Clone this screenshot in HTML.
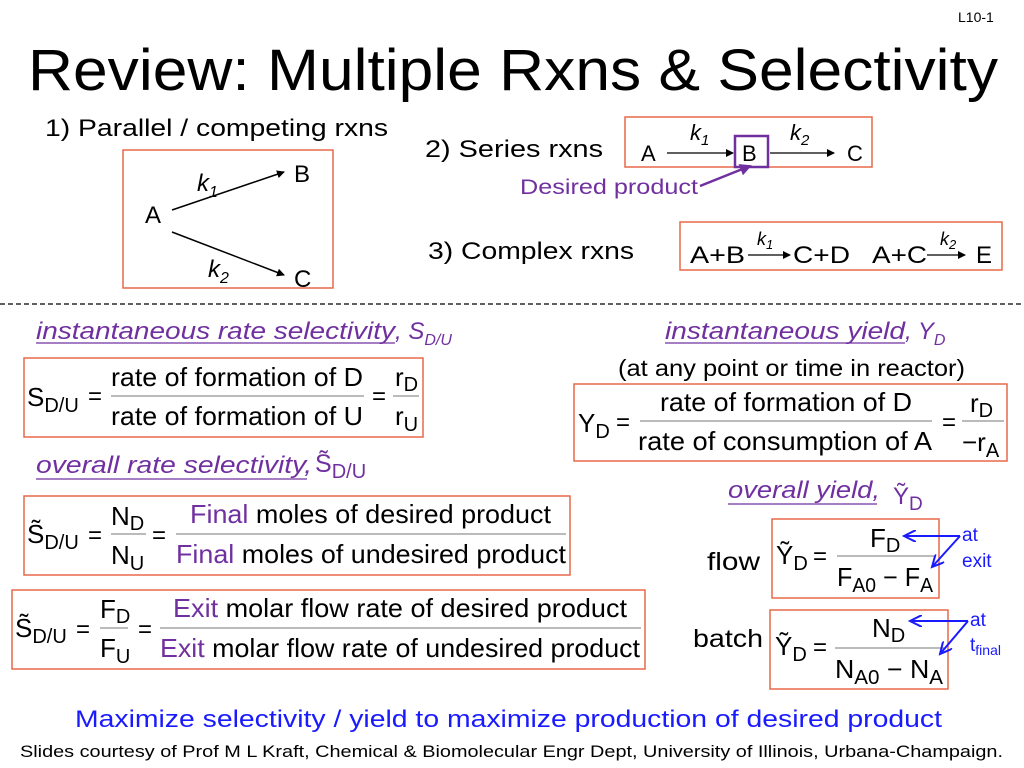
<!DOCTYPE html>
<html><head><meta charset="utf-8"><style>
html,body{margin:0;padding:0;background:#fff;}
svg{display:block;font-family:"Liberation Sans",Arial,sans-serif;}
.p{fill:#7030a0}.b{fill:#1a1aff}
</style></head><body>
<svg width="1024" height="768" viewBox="0 0 1024 768" xmlns="http://www.w3.org/2000/svg">
<defs>
<marker id="ak" markerWidth="8" markerHeight="8" refX="7" refY="4" orient="auto" markerUnits="userSpaceOnUse"><path d="M0,0 L8,4 L0,8 z" fill="#000"/></marker>
<marker id="ap" markerWidth="12" markerHeight="12" refX="10" refY="6" orient="auto" markerUnits="userSpaceOnUse"><path d="M0,0 L12,6 L0,12 z" fill="#7030a0"/></marker>
<marker id="ab" markerWidth="14" markerHeight="12" refX="12" refY="6" orient="auto" markerUnits="userSpaceOnUse"><path d="M0,0 L12,6 L0,12" fill="none" stroke="#1a1aff" stroke-width="2"/></marker>
</defs>
<g lengthAdjust="spacingAndGlyphs">
<text x="958" y="22" font-size="14">L10-1</text>
<text x="28" y="90" font-size="58" textLength="970" lengthAdjust="spacingAndGlyphs">Review: Multiple Rxns &amp; Selectivity</text>

<!-- Parallel -->
<text x="45" y="136" font-size="24" textLength="343" lengthAdjust="spacingAndGlyphs">1) Parallel / competing rxns</text>
<rect x="123" y="150" width="210" height="138" fill="none" stroke="#e8684a" stroke-width="1.5"/>
<text x="145" y="223" font-size="24">A</text>
<text x="294" y="182" font-size="24">B</text>
<text x="294" y="287" font-size="24">C</text>
<text x="197" y="191" font-size="24" font-style="italic">k<tspan font-size="16" dy="6">1</tspan></text>
<text x="208" y="277" font-size="24" font-style="italic">k<tspan font-size="16" dy="6">2</tspan></text>
<line x1="172" y1="210" x2="284" y2="172" stroke="#000" stroke-width="1.5" marker-end="url(#ak)"/>
<line x1="172" y1="232" x2="284" y2="275" stroke="#000" stroke-width="1.5" marker-end="url(#ak)"/>

<!-- Series -->
<text x="425" y="157" font-size="24" textLength="178" lengthAdjust="spacingAndGlyphs">2) Series rxns</text>
<rect x="625" y="117" width="247" height="50" fill="none" stroke="#e8684a" stroke-width="1.5"/>
<text x="641" y="161" font-size="22">A</text>
<line x1="667" y1="153" x2="733" y2="153" stroke="#000" stroke-width="1.3" marker-end="url(#ak)"/>
<rect x="735" y="136" width="33" height="31" fill="none" stroke="#7030a0" stroke-width="2.5"/>
<text x="742" y="161" font-size="22">B</text>
<line x1="770" y1="153" x2="834" y2="153" stroke="#000" stroke-width="1.3" marker-end="url(#ak)"/>
<text x="847" y="161" font-size="22">C</text>
<text x="690" y="140" font-size="22" font-style="italic">k<tspan font-size="15" dy="5">1</tspan></text>
<text x="790" y="140" font-size="22" font-style="italic">k<tspan font-size="15" dy="5">2</tspan></text>
<text x="520" y="194" font-size="21" class="p" textLength="178" lengthAdjust="spacingAndGlyphs">Desired product</text>
<line x1="700" y1="186" x2="750" y2="166" stroke="#7030a0" stroke-width="2.5" marker-end="url(#ap)"/>

<!-- Complex -->
<text x="428" y="259" font-size="24" textLength="206" lengthAdjust="spacingAndGlyphs">3) Complex rxns</text>
<rect x="680" y="222" width="322" height="48" fill="none" stroke="#e8684a" stroke-width="1.5"/>
<text x="690" y="263" font-size="24" textLength="55" lengthAdjust="spacingAndGlyphs">A+B</text>
<line x1="748" y1="255" x2="790" y2="255" stroke="#000" stroke-width="1.3" marker-end="url(#ak)"/>
<text x="757" y="245" font-size="18" font-style="italic">k<tspan font-size="13" dy="4">1</tspan></text>
<text x="793" y="263" font-size="24" textLength="57" lengthAdjust="spacingAndGlyphs">C+D</text>
<text x="872" y="263" font-size="24" textLength="55" lengthAdjust="spacingAndGlyphs">A+C</text>
<line x1="927" y1="255" x2="965" y2="255" stroke="#000" stroke-width="1.3" marker-end="url(#ak)"/>
<text x="940" y="245" font-size="18" font-style="italic">k<tspan font-size="13" dy="4">2</tspan></text>
<text x="976" y="263" font-size="24">E</text>

<line x1="0" y1="304" x2="1024" y2="304" stroke="#000" stroke-width="1.3" stroke-dasharray="5,3"/>

<!-- Left: instantaneous selectivity -->
<text x="36" y="339" font-size="24" font-style="italic" class="p" textLength="359" lengthAdjust="spacingAndGlyphs">instantaneous rate selectivity</text>
<text x="395" y="339" font-size="24" font-style="italic" class="p">, S<tspan font-size="16" dy="6">D/U</tspan></text>
<line x1="36" y1="343" x2="395" y2="343" stroke="#7030a0" stroke-width="1.3"/>
<rect x="24" y="358" width="399" height="79" fill="none" stroke="#e8684a" stroke-width="1.5"/>
<text x="27" y="406" font-size="26">S<tspan font-size="20" dy="6">D/U</tspan></text>
<text x="88" y="404" font-size="24">=</text>
<text x="111" y="386" font-size="26" textLength="252" lengthAdjust="spacingAndGlyphs">rate of formation of D</text>
<line x1="111" y1="396" x2="364" y2="396" stroke="#777" stroke-width="1"/>
<text x="111" y="425" font-size="26" textLength="252" lengthAdjust="spacingAndGlyphs">rate of formation of U</text>
<text x="372" y="404" font-size="24">=</text>
<text x="395" y="386" font-size="26">r<tspan font-size="20" dy="5">D</tspan></text>
<line x1="393" y1="396" x2="419" y2="396" stroke="#777" stroke-width="1"/>
<text x="395" y="425" font-size="26">r<tspan font-size="20" dy="6">U</tspan></text>

<!-- overall selectivity -->
<text x="36" y="473" font-size="24" font-style="italic" class="p" textLength="276" lengthAdjust="spacingAndGlyphs">overall rate selectivity,</text>
<line x1="36" y1="479" x2="307" y2="479" stroke="#7030a0" stroke-width="1.3"/>
<text x="315" y="472" font-size="25" class="p">S̃<tspan font-size="20" dy="6">D/U</tspan></text>
<rect x="24" y="496" width="546" height="79" fill="none" stroke="#e8684a" stroke-width="1.5"/>
<text x="27" y="543" font-size="26">S̃<tspan font-size="20" dy="6">D/U</tspan></text>
<text x="88" y="543" font-size="24">=</text>
<text x="111" y="525" font-size="26">N<tspan font-size="20" dy="5">D</tspan></text>
<line x1="111" y1="534" x2="146" y2="534" stroke="#777" stroke-width="1"/>
<text x="111" y="564" font-size="26">N<tspan font-size="20" dy="6">U</tspan></text>
<text x="152" y="543" font-size="24">=</text>
<text x="190" y="523" font-size="26" textLength="361" lengthAdjust="spacingAndGlyphs"><tspan class="p">Final</tspan> moles of desired product</text>
<line x1="176" y1="534" x2="566" y2="534" stroke="#777" stroke-width="1"/>
<text x="176" y="563" font-size="26" textLength="390" lengthAdjust="spacingAndGlyphs"><tspan class="p">Final</tspan> moles of undesired product</text>

<rect x="12" y="590" width="633" height="79" fill="none" stroke="#e8684a" stroke-width="1.5"/>
<text x="15" y="637" font-size="26">S̃<tspan font-size="20" dy="6">D/U</tspan></text>
<text x="76" y="637" font-size="24">=</text>
<text x="100" y="618" font-size="26">F<tspan font-size="20" dy="5">D</tspan></text>
<line x1="100" y1="628" x2="128" y2="628" stroke="#777" stroke-width="1"/>
<text x="100" y="657" font-size="26">F<tspan font-size="20" dy="6">U</tspan></text>
<text x="138" y="637" font-size="24">=</text>
<text x="173" y="617" font-size="26" textLength="454" lengthAdjust="spacingAndGlyphs"><tspan class="p">Exit</tspan> molar flow rate of desired product</text>
<line x1="160" y1="628" x2="641" y2="628" stroke="#777" stroke-width="1"/>
<text x="160" y="657" font-size="26" textLength="480" lengthAdjust="spacingAndGlyphs"><tspan class="p">Exit</tspan> molar flow rate of undesired product</text>

<!-- Right: instantaneous yield -->
<text x="665" y="339" font-size="24" font-style="italic" class="p" textLength="240" lengthAdjust="spacingAndGlyphs">instantaneous yield</text>
<text x="905" y="339" font-size="24" font-style="italic" class="p">, Y<tspan font-size="16" dy="6">D</tspan></text>
<line x1="665" y1="343" x2="905" y2="343" stroke="#7030a0" stroke-width="1.3"/>
<text x="618" y="376" font-size="23" textLength="347" lengthAdjust="spacingAndGlyphs">(at any point or time in reactor)</text>
<rect x="574" y="384" width="433" height="77" fill="none" stroke="#e8684a" stroke-width="1.5"/>
<text x="578" y="432" font-size="26">Y<tspan font-size="20" dy="6">D</tspan></text>
<text x="616" y="430" font-size="24">=</text>
<text x="660" y="411" font-size="26" textLength="252" lengthAdjust="spacingAndGlyphs">rate of formation of D</text>
<line x1="640" y1="421" x2="932" y2="421" stroke="#777" stroke-width="1"/>
<text x="638" y="450" font-size="26" textLength="294" lengthAdjust="spacingAndGlyphs">rate of consumption of A</text>
<text x="942" y="430" font-size="24">=</text>
<text x="970" y="412" font-size="26">r<tspan font-size="20" dy="5">D</tspan></text>
<line x1="962" y1="421" x2="1004" y2="421" stroke="#777" stroke-width="1"/>
<text x="962" y="451" font-size="26">−r<tspan font-size="20" dy="6">A</tspan></text>

<text x="728" y="498" font-size="24" font-style="italic" class="p" textLength="152" lengthAdjust="spacingAndGlyphs">overall yield,</text>
<line x1="728" y1="504" x2="877" y2="504" stroke="#7030a0" stroke-width="1.3"/>
<text x="893" y="504" font-size="24" class="p">Ỹ<tspan font-size="19" dy="6">D</tspan></text>

<text x="707" y="570" font-size="25" textLength="53" lengthAdjust="spacingAndGlyphs">flow</text>
<rect x="772" y="519" width="167" height="79" fill="none" stroke="#e8684a" stroke-width="1.5"/>
<text x="776" y="564" font-size="26">Ỹ<tspan font-size="20" dy="6">D</tspan></text>
<text x="813" y="564" font-size="24">=</text>
<text x="870" y="547" font-size="26">F<tspan font-size="20" dy="5">D</tspan></text>
<line x1="837" y1="556" x2="935" y2="556" stroke="#777" stroke-width="1"/>
<text x="837" y="586" font-size="26" textLength="96" lengthAdjust="spacingAndGlyphs">F<tspan font-size="20" dy="6">A0</tspan><tspan dy="-6"> − F</tspan><tspan font-size="20" dy="6">A</tspan></text>
<text x="962" y="541" font-size="19" class="b">at</text>
<text x="962" y="567" font-size="19" class="b">exit</text>
<line x1="960" y1="536" x2="904" y2="536" stroke="#1a1aff" stroke-width="2" marker-end="url(#ab)"/>
<line x1="960" y1="536" x2="932" y2="567" stroke="#1a1aff" stroke-width="2" marker-end="url(#ab)"/>

<text x="693" y="647" font-size="25" textLength="70" lengthAdjust="spacingAndGlyphs">batch</text>
<rect x="770" y="610" width="178" height="79" fill="none" stroke="#e8684a" stroke-width="1.5"/>
<text x="775" y="655" font-size="26">Ỹ<tspan font-size="20" dy="6">D</tspan></text>
<text x="813" y="655" font-size="24">=</text>
<text x="872" y="637" font-size="26">N<tspan font-size="20" dy="5">D</tspan></text>
<line x1="835" y1="648" x2="946" y2="648" stroke="#777" stroke-width="1"/>
<text x="835" y="678" font-size="26" textLength="108" lengthAdjust="spacingAndGlyphs">N<tspan font-size="20" dy="6">A0</tspan><tspan dy="-6"> − N</tspan><tspan font-size="20" dy="6">A</tspan></text>
<text x="970" y="626" font-size="19" class="b">at</text>
<text x="970" y="651" font-size="19" class="b">t<tspan font-size="14" dy="4">final</tspan></text>
<line x1="968" y1="621" x2="910" y2="621" stroke="#1a1aff" stroke-width="2" marker-end="url(#ab)"/>
<line x1="968" y1="621" x2="940" y2="654" stroke="#1a1aff" stroke-width="2" marker-end="url(#ab)"/>

<text x="75" y="727" font-size="24" class="b" textLength="867" lengthAdjust="spacingAndGlyphs">Maximize selectivity / yield to maximize production of desired product</text>
<text x="20" y="757" font-size="17" textLength="983" lengthAdjust="spacingAndGlyphs">Slides courtesy of Prof M L Kraft, Chemical &amp; Biomolecular Engr Dept, University of Illinois, Urbana-Champaign.</text>
</g>
</svg>
</body></html>
